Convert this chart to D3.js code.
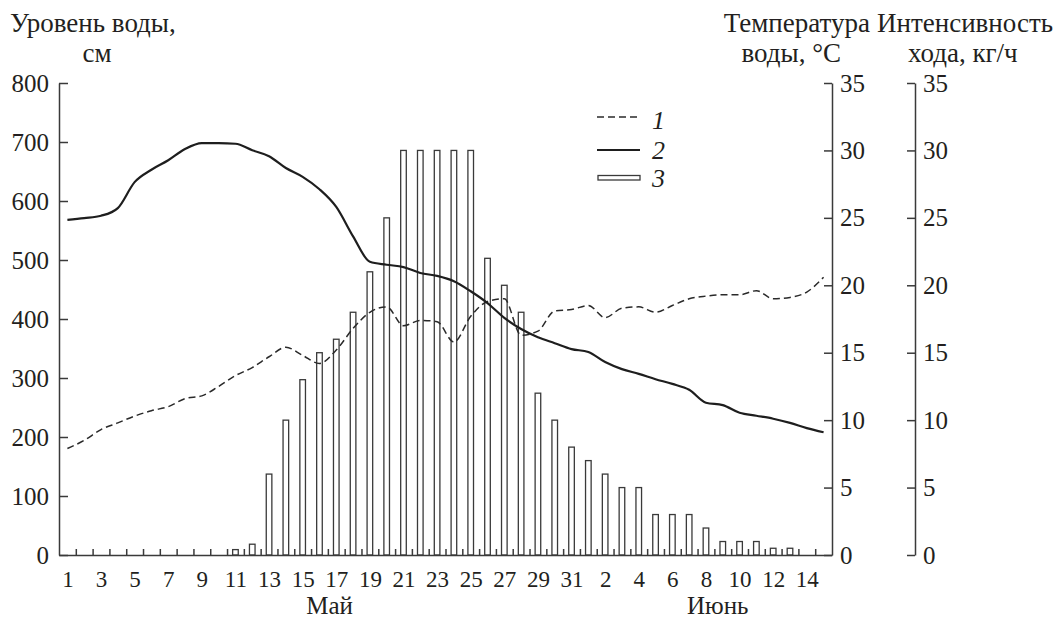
<!DOCTYPE html>
<html>
<head>
<meta charset="utf-8">
<script src="https://cdn.jsdelivr.net/npm/d3@7"></script>
<style>
  body { margin: 0; background: #fff; }
  svg { display: block; font-family: "Liberation Serif", "Times New Roman", serif; }
  .axis path, .axis line { stroke: #3a3a3a; stroke-width: 1.5; }
  .axis text { fill: #231f20; font-family: "Liberation Serif", "Times New Roman", serif; }
</style>
</head>
<body>
<svg id="chart"></svg>
<script>
// day labels: May 1..31, June 1..15
const dayLabels = [1,2,3,4,5,6,7,8,9,10,11,12,13,14,15,16,17,18,19,20,21,22,23,24,25,26,27,28,29,30,31,
                   1,2,3,4,5,6,7,8,9,10,11,12,13,14,15];
const months = ['Май', 'Июнь'];

// 1 - water temperature, °C
const temperature = [7.9, 8.5, 9.3, 9.8, 10.3, 10.7, 11.0, 11.6, 11.8, 12.5, 13.3, 13.9, 14.7, 15.4, 14.8, 14.2,
                     15.2, 16.8, 18.0, 18.4, 17.0, 17.4, 17.3, 15.8, 17.7, 18.8, 19.0, 16.3, 16.6, 18.1, 18.2,
                     18.5, 17.6, 18.3, 18.4, 18.0, 18.5, 19.0, 19.2, 19.3, 19.3, 19.6, 19.0, 19.1, 19.5, 20.6];

// 2 - water level, cm
const level = [568, 571, 575, 588, 632, 653, 669, 688, 698, 698, 697, 686, 676, 656, 641, 620,
               590, 540, 497, 492, 488, 478, 473, 464, 447, 427, 402, 383, 369, 359, 349,
               344, 327, 315, 307, 298, 290, 280, 258, 254, 241, 236, 231, 224, 215, 208];

// 3 - run intensity, kg/h
const intensity = [0, 0, 0, 0, 0, 0, 0, 0, 0, 0, 0.4, 0.8, 6, 10, 13, 15,
                   16, 18, 21, 25, 30, 30, 30, 30, 30, 22, 20, 18, 12, 10, 8,
                   7, 6, 5, 5, 3, 3, 3, 2, 1, 1, 1, 0.5, 0.5, 0, 0];

const levelTicks = [0, 100, 200, 300, 400, 500, 600, 700, 800];
const rightTicks = [0, 5, 10, 15, 20, 25, 30, 35];

const width = 1060, height = 619;
const plotLeft = 59, plotRight = 832, axis2X = 915, plotTop = 83, plotBottom = 555;

const svg = d3.select('#chart').attr('width', width).attr('height', height);

const n = dayLabels.length;
const x = d3.scaleLinear().domain([-0.5, n - 0.5]).range([plotLeft, plotRight]);
const yLevel = d3.scaleLinear().domain([0, 800]).range([plotBottom, plotTop]);
const yTemp = d3.scaleLinear().domain([0, 35]).range([plotBottom, plotTop]);
const yInt = d3.scaleLinear().domain([0, 35]).range([plotBottom, plotTop]);

// bars (3)
svg.append('g')
  .selectAll('rect')
  .data(intensity.map((v, i) => ({ v, i })).filter(d => d.v > 0))
  .join('rect')
  .attr('x', d => x(d.i) - 2.8)
  .attr('width', 5.6)
  .attr('y', d => yInt(d.v))
  .attr('height', d => plotBottom - yInt(d.v))
  .attr('fill', '#fff')
  .attr('stroke', '#3a3a3a')
  .attr('stroke-width', 1.3);

// x axis: day boundary ticks pointing up
svg.append('g')
  .attr('class', 'axis')
  .attr('transform', `translate(0,${plotBottom})`)
  .call(d3.axisBottom(x)
    .tickValues(d3.range(0.5, n - 1, 1))
    .tickSizeInner(-6).tickSizeOuter(0).tickFormat(''));

// x labels every other day
svg.append('g')
  .attr('class', 'axis')
  .attr('transform', `translate(0,${plotBottom})`)
  .call(d3.axisBottom(x)
    .tickValues(d3.range(0, n, 2))
    .tickSize(0).tickPadding(16)
    .tickFormat(i => dayLabels[i]))
  .call(g => g.select('.domain').remove())
  .selectAll('text').style('font-size', '23px');

// month names
const monthAt = [15.6, 38.7];
svg.selectAll('.month')
  .data(months)
  .join('text')
  .attr('class', 'month')
  .attr('x', (d, i) => x(monthAt[i]))
  .attr('y', 614)
  .attr('text-anchor', 'middle')
  .attr('fill', '#231f20')
  .style('font-size', '25px')
  .text(d => d);

// left axis, water level
svg.append('g')
  .attr('class', 'axis')
  .attr('transform', `translate(${plotLeft},0)`)
  .call(d3.axisLeft(yLevel).tickValues(levelTicks)
    .tickSizeInner(-9).tickSizeOuter(0).tickPadding(10))
  .selectAll('text').style('font-size', '25px');

// temperature axis
svg.append('g')
  .attr('class', 'axis')
  .attr('transform', `translate(${plotRight},0)`)
  .call(d3.axisRight(yTemp).tickValues(rightTicks)
    .tickSizeInner(-8).tickSizeOuter(0).tickPadding(8))
  .selectAll('text').style('font-size', '25px');

// intensity axis
svg.append('g')
  .attr('class', 'axis')
  .attr('transform', `translate(${axis2X},0)`)
  .call(d3.axisRight(yInt).tickValues(rightTicks)
    .tickSizeInner(-8).tickSizeOuter(0).tickPadding(8))
  .selectAll('text').style('font-size', '25px');

// lines
const tempLine = d3.line()
  .x((d, i) => x(i))
  .y(d => yTemp(d))
  .curve(d3.curveMonotoneX);

const levelLine = d3.line()
  .x((d, i) => x(i))
  .y(d => yLevel(d))
  .curve(d3.curveMonotoneX);

svg.append('path')
  .datum(temperature)
  .attr('d', tempLine)
  .attr('fill', 'none')
  .attr('stroke', '#2a2a2a')
  .attr('stroke-width', 1.5)
  .attr('stroke-dasharray', '7,4');

svg.append('path')
  .datum(level)
  .attr('d', levelLine)
  .attr('fill', 'none')
  .attr('stroke', '#1e1e1e')
  .attr('stroke-width', 2.2);

// axis titles
const titles = [
  { t: 'Уровень воды,', x: 10, y: 32, a: 'start' },
  { t: 'см', x: 97, y: 62, a: 'middle' },
  { t: 'Температура', x: 870, y: 32, a: 'end' },
  { t: 'воды, °С', x: 841, y: 62, a: 'end' },
  { t: 'Интенсивность', x: 877, y: 32, a: 'start' },
  { t: 'хода, кг/ч', x: 908, y: 62, a: 'start' }
];
svg.selectAll('.title')
  .data(titles)
  .join('text')
  .attr('class', 'title')
  .attr('x', d => d.x)
  .attr('y', d => d.y)
  .attr('text-anchor', d => d.a)
  .attr('fill', '#231f20')
  .style('font-size', '27px')
  .text(d => d.t);

// legend
const legend = svg.append('g').attr('transform', 'translate(597,0)');
legend.append('line')
  .attr('x1', 0).attr('x2', 43).attr('y1', 117).attr('y2', 117)
  .attr('stroke', '#2a2a2a').attr('stroke-width', 1.5).attr('stroke-dasharray', '7,4');
legend.append('line')
  .attr('x1', 0).attr('x2', 43).attr('y1', 150).attr('y2', 150)
  .attr('stroke', '#1e1e1e').attr('stroke-width', 2.2);
legend.append('rect')
  .attr('x', 1).attr('y', 175.5).attr('width', 42).attr('height', 4.5)
  .attr('fill', '#fff').attr('stroke', '#3a3a3a').attr('stroke-width', 1.3);
legend.selectAll('text')
  .data(['1', '2', '3'])
  .join('text')
  .attr('x', 55)
  .attr('y', (d, i) => [120, 150, 178][i])
  .attr('dy', '0.35em')
  .attr('fill', '#231f20')
  .style('font-size', '26px')
  .style('font-style', 'italic')
  .text(d => d);
</script>
</body>
</html>
